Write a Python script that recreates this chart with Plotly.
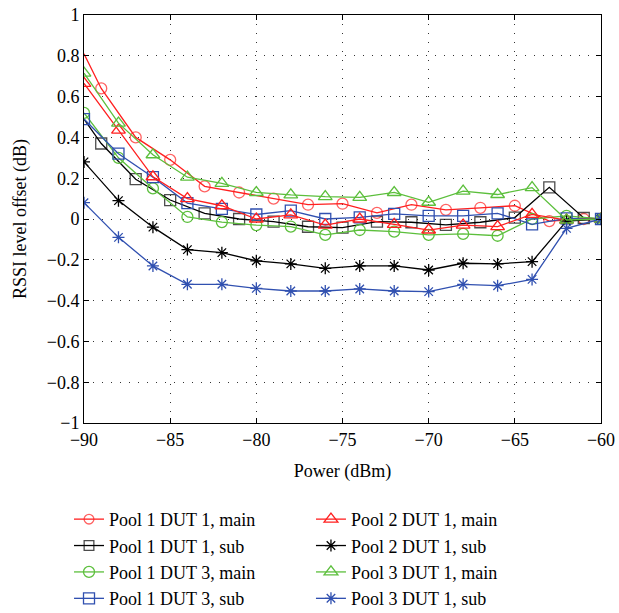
import plotly.graph_objects as go

# Received power sweep (dBm)
power_even = [-90, -88, -86, -84, -82, -80, -78, -76, -74, -72, -70, -68, -66, -64, -62, -60]
power_odd = [-90, -89, -87, -85, -83, -81, -79, -77, -75, -73, -71, -69, -67, -65, -63, -61, -60]

# RSSI level offsets (dB)
p1d1_main = [0.81, 0.64, 0.40, 0.29, 0.16, 0.13, 0.10, 0.07, 0.075, 0.03, 0.07, 0.045, 0.055, 0.065, -0.01, 0.0, 0.0]
p1d1_sub = [0.49, 0.37, 0.195, 0.093, 0.028, 0.0, -0.013, -0.038, -0.042, -0.013, -0.016, -0.029, -0.016, 0.007, 0.155, 0.005, 0.0]
p1d3_main = [0.52, 0.30, 0.15, 0.01, -0.015, -0.03, -0.037, -0.078, -0.054, -0.062, -0.078, -0.073, -0.082, 0.0, 0.015, 0.0]
p1d3_sub = [0.49, 0.32, 0.205, 0.078, 0.05, 0.022, 0.041, 0.0, 0.008, 0.025, 0.015, 0.015, 0.028, -0.026, 0.003, 0.0]
p2d1_main = [0.665, 0.436, 0.207, 0.10, 0.065, 0.0, 0.02, -0.03, 0.0, -0.026, -0.054, -0.03, -0.037, 0.023, -0.005, 0.0]
p2d1_sub = [0.28, 0.09, -0.04, -0.15, -0.165, -0.205, -0.22, -0.242, -0.23, -0.23, -0.25, -0.217, -0.22, -0.209, -0.01, 0.0]
p3d1_main = [0.715, 0.47, 0.315, 0.205, 0.175, 0.13, 0.118, 0.11, 0.106, 0.13, 0.082, 0.137, 0.12, 0.154, -0.005, 0.0]
p3d1_sub = [0.08, -0.09, -0.23, -0.32, -0.32, -0.34, -0.353, -0.353, -0.343, -0.353, -0.356, -0.32, -0.327, -0.296, -0.046, 0.0]

y_ticks = [-1, -0.8, -0.6, -0.4, -0.2, 0, 0.2, 0.4, 0.6, 0.8, 1]
x_ticks = [-90, -85, -80, -75, -70, -65, -60]

RED = "#ff1f1f"
BLACK = "#000000"
GREEN = "#5cbf3c"
BLUE = "#3050b0"
FONT = "Liberation Serif, Times New Roman, serif"

# odd-sweep series carry no marker on the two end points
odd_sizes = [0] + [11] * (len(power_odd) - 2) + [0]

series = [
    ("Pool 1 DUT 1, main", power_odd, p1d1_main, RED, "circle-open", odd_sizes, "legend"),
    ("Pool 1 DUT 1, sub", power_odd, p1d1_sub, BLACK, "square-open", odd_sizes, "legend"),
    ("Pool 1 DUT 3, main", power_even, p1d3_main, GREEN, "circle-open", 11, "legend"),
    ("Pool 1 DUT 3, sub", power_even, p1d3_sub, BLUE, "square-open", 11, "legend"),
    ("Pool 2 DUT 1, main", power_even, p2d1_main, RED, "triangle-up-open", 12, "legend2"),
    ("Pool 2 DUT 1, sub", power_even, p2d1_sub, BLACK, "asterisk-open", 10, "legend2"),
    ("Pool 3 DUT 1, main", power_even, p3d1_main, GREEN, "triangle-up-open", 12, "legend2"),
    ("Pool 3 DUT 1, sub", power_even, p3d1_sub, BLUE, "asterisk-open", 10, "legend2"),
]

fig = go.Figure()
for name, xs, ys, color, symbol, size, leg in series:
    fig.add_trace(go.Scatter(
        x=xs, y=ys, name=name, mode="lines+markers",
        line=dict(color=color, width=1.3),
        marker=dict(symbol=symbol, size=size, color=color, line=dict(color=color, width=1.3)),
        legend=leg,
    ))

axis_common = dict(
    showline=True, linecolor="black", linewidth=1, mirror="ticks",
    ticks="inside", ticklen=5, tickcolor="black", tickwidth=1,
    showgrid=True, gridcolor="#333333", griddash="1px,8px", gridwidth=1,
    zeroline=False, tickfont=dict(family=FONT, size=18, color="black"),
)

fig.update_xaxes(
    range=[-90, -60], tickvals=x_ticks,
    title=dict(text="Power (dBm)", font=dict(family=FONT, size=18, color="black")),
    **axis_common,
)
fig.update_yaxes(
    range=[-1, 1], tickvals=y_ticks,
    title=dict(text="RSSI level offset (dB)", font=dict(family=FONT, size=18, color="black")),
    **axis_common,
)

legend_common = dict(
    font=dict(family=FONT, size=18, color="black"),
    bgcolor="rgba(0,0,0,0)", orientation="v", yanchor="top", xanchor="left",
    tracegroupgap=0,
)

fig.update_layout(
    width=619, height=613,
    margin=dict(l=84, r=18, t=15, b=190, autoexpand=False),
    plot_bgcolor="white", paper_bgcolor="white",
    font=dict(family=FONT, color="black"),
    legend=dict(x=-0.029, y=-0.191, **legend_common),
    legend2=dict(x=0.439, y=-0.191, **legend_common),
)

fig.write_html("out.html")
